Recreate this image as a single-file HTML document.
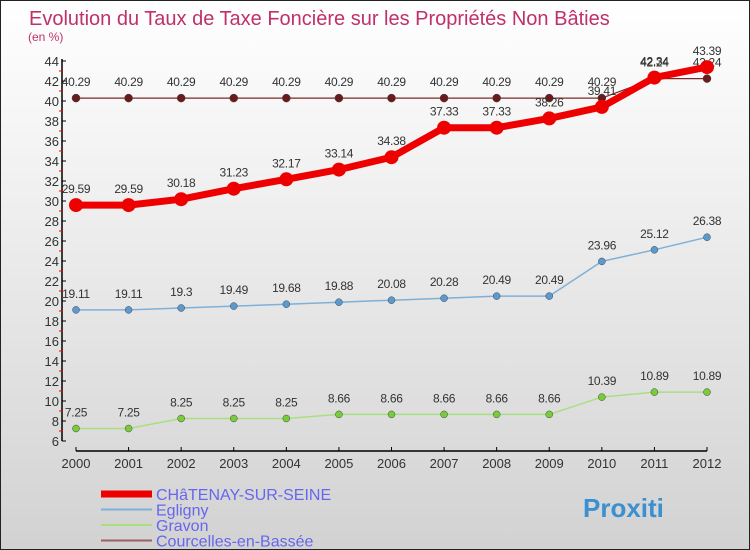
<!DOCTYPE html>
<html><head><meta charset="utf-8"><style>
body{margin:0}
#c{width:750px;height:550px;position:relative;box-sizing:border-box;border:1px solid #222;background:linear-gradient(#ffffff,#f2f2f2 30%,#d2d2d2);font-family:"Liberation Sans",sans-serif;overflow:hidden}
text{font-family:"Liberation Sans",sans-serif}
</style></head><body>
<div id="c">
<svg id="s" width="750" height="550"></svg>
</div>
<script>
const years=[2000,2001,2002,2003,2004,2005,2006,2007,2008,2009,2010,2011,2012];
const chatenay=[29.59,29.59,30.18,31.23,32.17,33.14,34.38,37.33,37.33,38.26,39.41,42.34,43.39];
const egligny=[19.11,19.11,19.3,19.49,19.68,19.88,20.08,20.28,20.49,20.49,23.96,25.12,26.38];
const gravon=[7.25,7.25,8.25,8.25,8.25,8.66,8.66,8.66,8.66,8.66,10.39,10.89,10.89];
const courcelles=[40.29,40.29,40.29,40.29,40.29,40.29,40.29,40.29,40.29,40.29,40.29,42.24,42.24];
const yTicks=[6,8,10,12,14,16,18,20,22,24,26,28,30,32,34,36,38,40,42,44];
const NS="http://www.w3.org/2000/svg";
const svg=document.getElementById('s');
const X=i=>75+i*(706-75)/12;
const Y=v=>440-(v-6)*10;
function el(t,a,p){const e=document.createElementNS(NS,t);for(const k in a)e.setAttribute(k,a[k]);(p||svg).appendChild(e);return e;}
let t=el('text',{x:28,y:24,'font-size':20,fill:'#c0306a'});t.textContent='Evolution du Taux de Taxe Foncière sur les Propriétés Non Bâties';

t=el('text',{x:27,y:40,'font-size':12,fill:'#c0306a'});t.textContent='(en %)';

let a=el('line',{x1:61,y1:58,x2:61,y2:440,stroke:'#000','stroke-width':1.5});

a=el('line',{x1:75,y1:450,x2:706,y2:450,stroke:'#000','stroke-width':1.5});

yTicks.forEach((v,i)=>{
 el('line',{x1:61,y1:Y(v),x2:65,y2:Y(v),stroke:'#000'});
 if(i<yTicks.length-1) el('line',{x1:58,y1:Y(v+1),x2:62,y2:Y(v+1),stroke:'#e00'});
 const tx=el('text',{x:58,y:Y(v)+5,'font-size':13,fill:'#333','text-anchor':'end'});tx.textContent=v;
 
});
years.forEach((y,i)=>{
 el('line',{x1:X(i),y1:446,x2:X(i),y2:450,stroke:'#000'});
 const tx=el('text',{x:X(i),y:467,'font-size':13,fill:'#333','text-anchor':'middle'});tx.textContent=y;
 
});
function series(vals,color,w,r,dot,name){
 const g=el('g',{});
 
 el('polyline',{points:vals.map((v,i)=>X(i)+','+Y(v)).join(' '),fill:'none',stroke:color,'stroke-width':w,'stroke-linejoin':'round'},g);
 vals.forEach((v,i)=>{
  const c=el('circle',{cx:X(i),cy:Y(v),r:r,fill:dot,stroke:color==='#e00'?'#e00':'#444','stroke-width':color==='#e00'?0:0.5},g);
  
  const tx=el('text',{x:X(i),y:Y(v)-12,'font-size':12,fill:'#333','text-anchor':'middle','letter-spacing':'-0.3'},g);tx.textContent=v;
  
 });
}
series(courcelles,'#7a2a2a',1.2,4,'#6a1a1a','series-courcelles');
series(egligny,'#7fb0d8',1.5,3.5,'#5a9ad0','series-egligny');
series(gravon,'#a8e080',1.5,3.5,'#78cc3a','series-gravon');
series(chatenay,'#e00',7,7,'#e00','series-chatenay');
const legend=[['CHâTENAY-SUR-SEINE','#e00',7],['Egligny','#7fb0d8',2],['Gravon','#a8e080',2],['Courcelles-en-Bassée','#9a6060',2]];
legend.forEach((l,i)=>{
 const y=493+i*15.5;
 const g=el('g',{});
 el('line',{x1:100,y1:y,x2:151,y2:y,stroke:l[1],'stroke-width':l[2]},g);
 const tx=el('text',{x:155,y:y+6,'font-size':16,fill:'#6666ee'},g);tx.textContent=l[0];
});
t=el('text',{x:582,y:516,'font-size':26,'font-weight':'bold',fill:'#3a90d0'});t.textContent='Proxiti';

</script>
</body></html>
